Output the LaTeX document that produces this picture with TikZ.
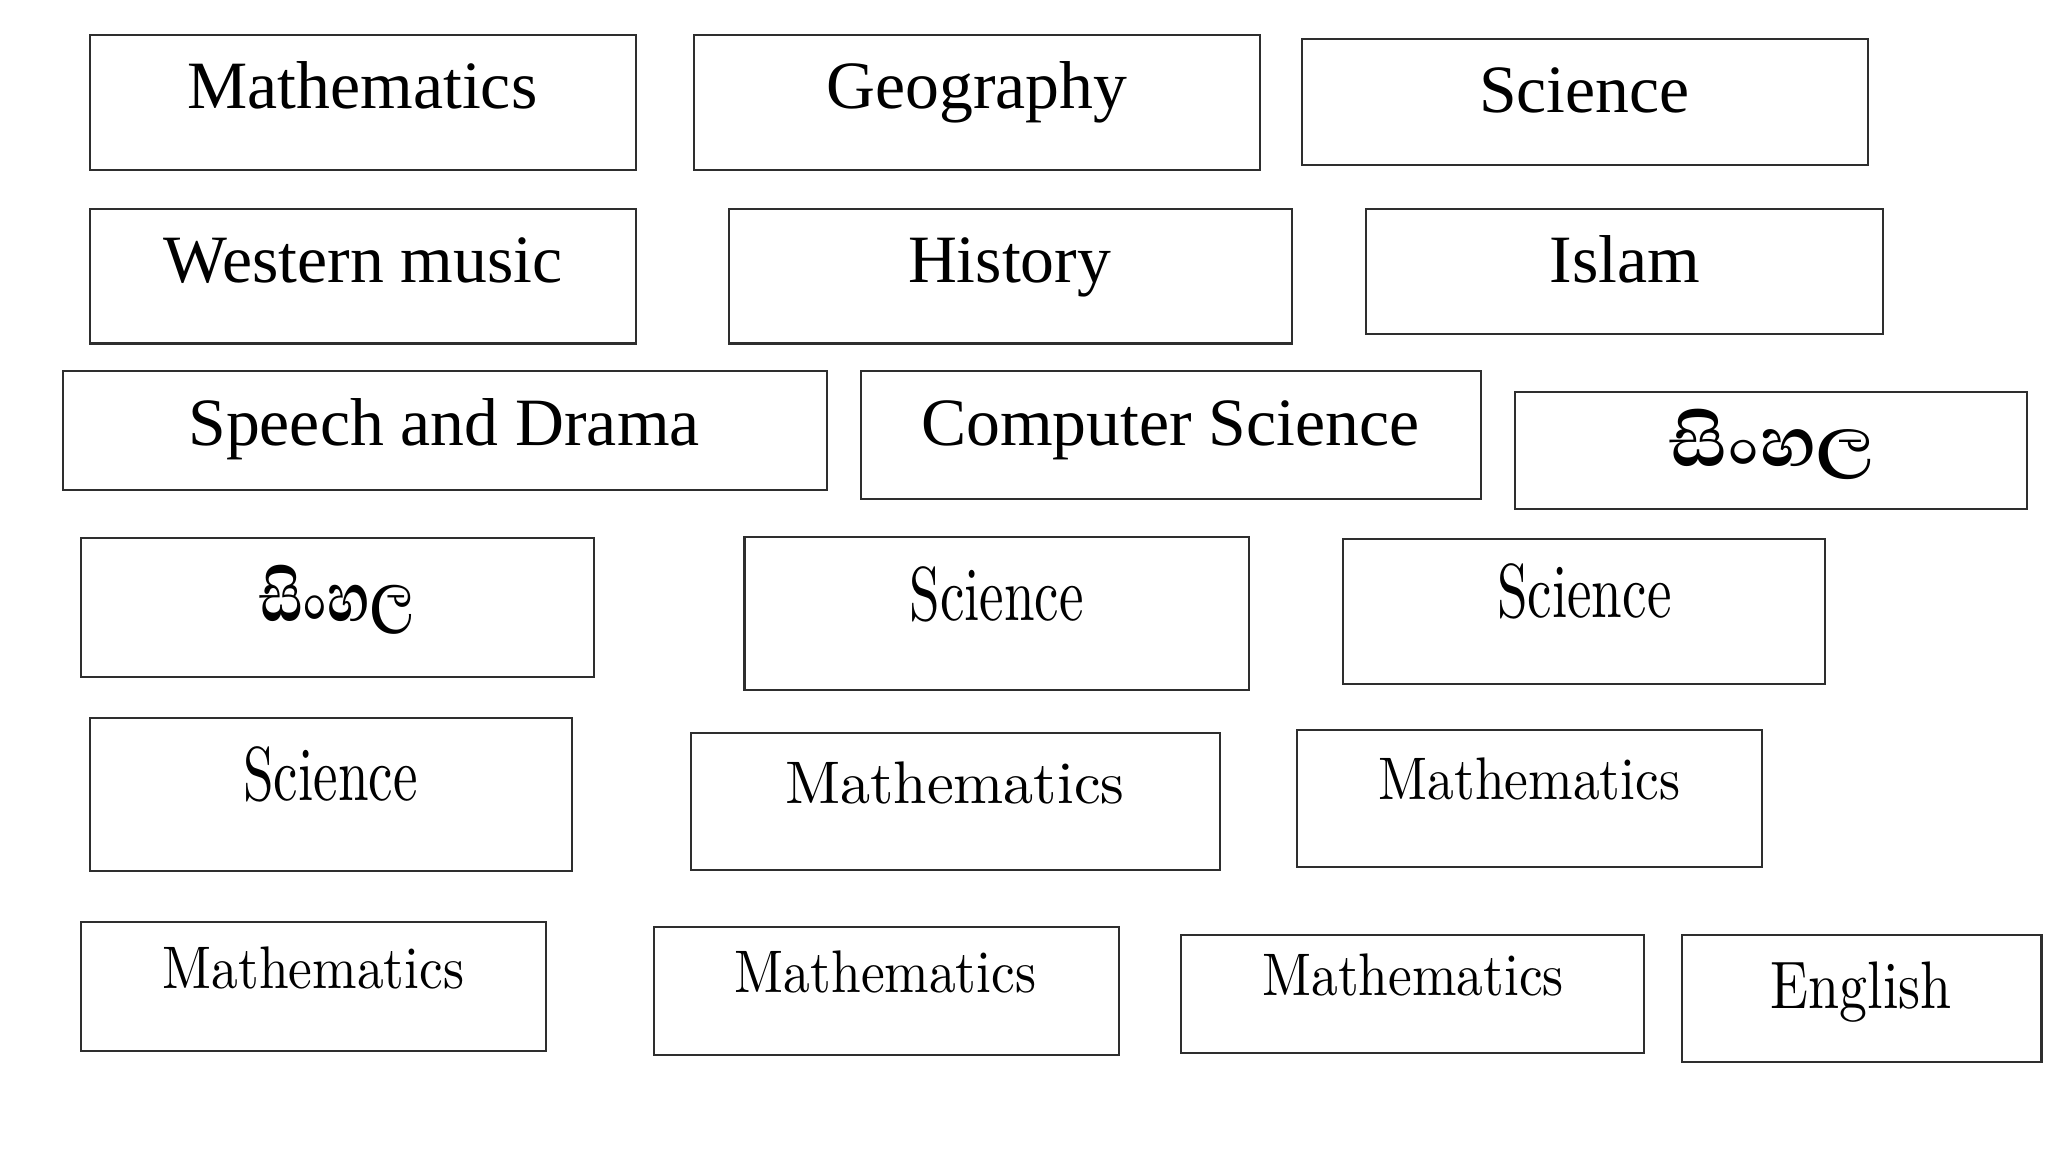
\documentclass[tikz,border=0pt]{standalone}
\usepackage{fontspec}
\usepackage{graphicx}
\setmainfont{Liberation Serif}
\newfontfamily\lmfont{lmroman10-regular}[Extension=.otf]
\newfontfamily\sinfont[Script=Sinhala]{Abhaya Libre}
\newcommand{\topf}{\fontsize{29.5}{34}\selectfont}
\newcommand{\mathf}{\lmfont\fontsize{26.2}{30}\selectfont}
\newcommand{\scif}{\lmfont\fontsize{33.3}{38}\selectfont}
\newcommand{\engf}{\lmfont\fontsize{29.3}{34}\selectfont}
\newcommand{\subjbox}[5]{\node[boxst, minimum width={0.02cm*(#4-#2)}, minimum height={0.02cm*(#5-#3)}] (#1) at ({(#2+#4)/2},{(#3+#5)/2}) {};}
\tikzset{
  boxst/.style={draw=black!82, line width=0.9pt, rectangle, inner sep=0pt, outer sep=0pt},
  lbl/.style={anchor=base, inner sep=0pt, outer sep=0pt, text=black},
  sinlbl/.style={anchor=center, inner sep=0pt, outer sep=0pt, text=black},
}
\begin{document}
\begin{tikzpicture}[x=0.02cm, y=-0.02cm]
\fill[white] (0,0) rectangle (1568,882);
\useasboundingbox (0,0) rectangle (1568,882);

% row 1
\subjbox{b1}{69}{27}{487}{130}
\subjbox{b2}{531}{27}{965}{130}
\subjbox{b3}{997}{30}{1430}{126}
\node[lbl] (t1) at (277.5,83) {\topf Mathematics};
\node[lbl] (t2) at (748,83) {\topf Geography};
\node[lbl] (t3) at (1213,86) {\topf Science};

% row 2
\subjbox{b4}{69}{160}{487}{263}
\subjbox{b5}{558}{160}{989}{263}
\subjbox{b6}{1046}{160}{1442}{256}
\node[lbl] (t4) at (278,216) {\topf Western music};
\node[lbl] (t5) at (773,216) {\topf History};
\node[lbl] (t6) at (1244,216) {\topf Islam};

% row 3
\subjbox{b7}{48}{284}{633}{375}
\subjbox{b8}{659}{284}{1134}{382}
\subjbox{b9}{1160}{300}{1552}{390}
\node[lbl] (t7) at (340,341) {\topf Speech and Drama};
\node[lbl] (t8) at (896,341) {\topf Computer Science};
\node[sinlbl] (t9) at (1357,340) {\resizebox*{3.14cm}{1.08cm}{\sinfont\bfseries\fontsize{30}{36}\selectfont සිංහල}};

% row 4
\subjbox{b10}{62}{412}{455}{518}
\subjbox{b11}{570}{411}{956}{528}
\subjbox{b12}{1028}{413}{1397}{524}
\node[sinlbl] (t10) at (258,459) {\resizebox*{2.38cm}{1.06cm}{\sinfont\bfseries\fontsize{30}{36}\selectfont සිංහල}};
\node[lbl] (t11) at (763,475) {\scalebox{0.72}[1]{\scif Science}};
\node[lbl] (t12) at (1213,473) {\scalebox{0.72}[1]{\scif Science}};

% row 5
\subjbox{b13}{69}{550}{438}{667}
\subjbox{b14}{529}{561}{934}{666}
\subjbox{b15}{993}{559}{1349}{664}
\node[lbl] (t13) at (253,613) {\scalebox{0.72}[1]{\scif Science}};
\node[lbl] (t14) at (731,615) {\mathf Mathematics};
\node[lbl] (t15) at (1171,612) {\scalebox{0.888}[1]{\mathf Mathematics}};

% row 6
\subjbox{b16}{62}{706}{418}{805}
\subjbox{b17}{501}{710}{857}{808}
\subjbox{b18}{904}{716}{1259}{806}
\subjbox{b19}{1288}{716}{1563}{813}
\node[lbl] (t16) at (240,757) {\scalebox{0.888}[1]{\mathf Mathematics}};
\node[lbl] (t17) at (678,760) {\scalebox{0.888}[1]{\mathf Mathematics}};
\node[lbl] (t18) at (1082,762) {\scalebox{0.888}[1]{\mathf Mathematics}};
\node[lbl] (t19) at (1425,772) {\scalebox{0.83}[1]{\engf English}};
\end{tikzpicture}
\end{document}
